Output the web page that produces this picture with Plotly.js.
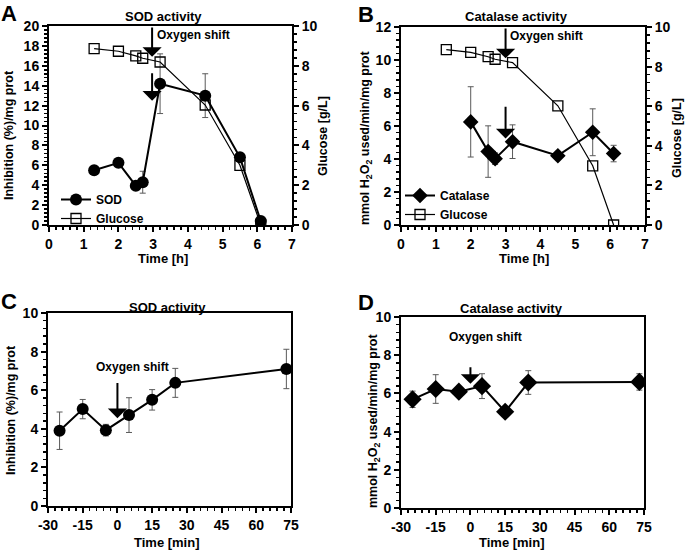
<!DOCTYPE html>
<html>
<head>
<meta charset="utf-8">
<script src="https://cdn.plot.ly/plotly-3.0.1.min.js"></script>
<style>html,body{margin:0;padding:0;background:#fff;}#chart{width:685px;height:550px;}</style>
</head>
<body>
<div id="chart"></div>
<script>
// ---- Data ----
// Panel A (SOD vs time in hours)
var timeA = [1.3, 2.0, 2.5, 2.7, 3.2, 4.5, 5.5, 6.1];
var sodA = [5.5, 6.25, 3.95, 4.3, 14.2, 13.0, 6.8, 0.4];
var sodAErr = [0.2, 0.4, 0.2, 1.1, 3.0, 2.2, 0.3, 0.1];
var glucoseA = [8.86, 8.73, 8.5, 8.38, 8.19, 6.03, 3.0, 0.0];
// Panel B (catalase vs time in hours)
var timeBcat = [2.0, 2.5, 2.7, 3.2, 4.5, 5.5, 6.1];
var catB = [6.25, 4.45, 4.02, 5.05, 4.2, 5.62, 4.33];
var catBErr = [2.13, 1.56, 0.35, 1.02, 0.2, 1.42, 0.5];
var timeBglu = [1.3, 2.0, 2.5, 2.7, 3.2, 4.5, 5.5, 6.1];
var glucoseB = [8.86, 8.72, 8.5, 8.37, 8.2, 6.02, 2.99, 0.0];
// Panel C (SOD vs time in minutes relative to oxygen shift)
var timeC = [-25, -15, -5, 5, 15, 25, 73];
var sodC = [3.9, 5.02, 3.93, 4.71, 5.5, 6.38, 7.1];
var sodCErr = [0.97, 0.5, 0.3, 0.9, 0.53, 0.75, 1.02];
// Panel D (catalase vs time in minutes)
var timeD = [-25, -15, -5, 5, 15, 25, 73];
var catD = [5.69, 6.23, 6.09, 6.38, 5.04, 6.57, 6.6];
var catDErr = [0.43, 0.75, 0.2, 0.65, 0.15, 0.62, 0.43];
// Tick labels
var hourTicks = [0, 1, 2, 3, 4, 5, 6, 7];
var minTicks = [-30, -15, 0, 15, 30, 45, 60, 75];
var inhibTicksA = [0, 2, 4, 6, 8, 10, 12, 14, 16, 18, 20];
var glucoseTicks = [0, 2, 4, 6, 8, 10];
var catTicksB = [0, 2, 4, 6, 8, 10, 12];
var activityTicks = [0, 2, 4, 6, 8, 10];

var FONT = 'Liberation Sans, Arial, Helvetica, sans-serif';
var W = 685, H = 550;
function px(x){ return x / W; }
function py(y){ return 1 - y / H; }
function bold(arr){ return arr.map(function(v){ return '<b>' + v + '</b>'; }); }

var errStyle = function(arr){ return {type:'data', array:arr, visible:true, color:'#5a5a5a', thickness:1, width:3}; };

var traces = [
  {x: timeA, y: sodA, name: 'SOD', xaxis:'x', yaxis:'y', mode:'lines+markers',
   line:{color:'#000', width:2}, marker:{symbol:'circle', size:12, color:'#000'},
   error_y: errStyle(sodAErr), legend:'legend'},
  {x: timeA, y: glucoseA, name: 'Glucose', xaxis:'x', yaxis:'y2', mode:'lines+markers',
   line:{color:'#000', width:1.2}, marker:{symbol:'square-open', size:10, color:'#000', line:{width:1.3}},
   legend:'legend'},
  {x: timeBcat, y: catB, name: 'Catalase', xaxis:'x2', yaxis:'y3', mode:'lines+markers',
   line:{color:'#000', width:2}, marker:{symbol:'diamond', size:12, color:'#000'},
   error_y: errStyle(catBErr), legend:'legend2'},
  {x: timeBglu, y: glucoseB, name: 'Glucose', xaxis:'x2', yaxis:'y4', mode:'lines+markers',
   line:{color:'#000', width:1.2}, marker:{symbol:'square-open', size:10, color:'#000', line:{width:1.3}},
   legend:'legend2'},
  {x: timeC, y: sodC, name: 'SOD', xaxis:'x3', yaxis:'y5', mode:'lines+markers', showlegend:false,
   line:{color:'#000', width:2}, marker:{symbol:'circle', size:12, color:'#000'},
   error_y: errStyle(sodCErr)},
  {x: timeD, y: catD, name: 'Catalase', xaxis:'x4', yaxis:'y6', mode:'lines+markers', showlegend:false,
   line:{color:'#000', width:2}, marker:{symbol:'diamond', size:14, color:'#000'},
   error_y: errStyle(catDErr)}
];

var tickFont = {family: FONT, size: 14, color:'#000', weight:'bold'};
function baseAxis(ticks, extra){
  var a = {showgrid:false, zeroline:false, showline:true, linecolor:'#000', linewidth:2,
    ticks:'outside', ticklen:5, tickwidth:2, tickcolor:'#000', tickfont:tickFont,
    tickmode:'array', tickvals:ticks, ticktext:bold(ticks), fixedrange:true};
  for (var k in extra) a[k] = extra[k];
  return a;
}
function minor(d){ return {dtick:d, ticklen:3, tickwidth:1.5, ticks:'outside', tickcolor:'#000'}; }

var domA = {x:[px(49), px(292)], y:[py(225), py(26)]};
var domB = {x:[px(401), px(645)], y:[py(225), py(27)]};
var domC = {x:[px(48), px(291)], y:[py(506), py(313)]};
var domD = {x:[px(401), px(644)], y:[py(508), py(317)]};

var layout = {
  width: W, height: H,
  margin:{l:0, r:0, t:0, b:0},
  paper_bgcolor:'#fff', plot_bgcolor:'rgba(0,0,0,0)',
  font:{family: FONT, color:'#000'},
  showlegend: true,
  xaxis: baseAxis(hourTicks, {domain:domA.x, anchor:'y', range:[0,7], mirror:true, minor:minor(0.2)}),
  yaxis: baseAxis(inhibTicksA, {domain:domA.y, anchor:'x', range:[0,20], minor:minor(0.4)}),
  yaxis2: baseAxis(glucoseTicks, {overlaying:'y', side:'right', anchor:'x', range:[0,10], minor:minor(0.4)}),
  xaxis2: baseAxis(hourTicks, {domain:domB.x, anchor:'y3', range:[0,7], mirror:true, minor:minor(0.2)}),
  yaxis3: baseAxis(catTicksB, {domain:domB.y, anchor:'x2', range:[0,12], minor:minor(0.4)}),
  yaxis4: baseAxis(glucoseTicks, {overlaying:'y3', side:'right', anchor:'x2', range:[0,10], minor:minor(0.4)}),
  xaxis3: baseAxis(minTicks, {domain:domC.x, anchor:'y5', range:[-30,75], mirror:true, minor:minor(3)}),
  yaxis5: baseAxis(activityTicks, {domain:domC.y, anchor:'x3', range:[0,10], mirror:true, minor:minor(0.4)}),
  xaxis4: baseAxis(minTicks, {domain:domD.x, anchor:'y6', range:[-30,75], mirror:true, minor:minor(3)}),
  yaxis6: baseAxis(activityTicks, {domain:domD.y, anchor:'x4', range:[0,10], mirror:true, minor:minor(0.4)}),
  legend: {x: px(56), y: py(185), xanchor:'left', yanchor:'top', bgcolor:'rgba(0,0,0,0)',
    font:{family:FONT, size:12, weight:'bold', color:'#000'}, itemwidth:30, tracegroupgap:0},
  legend2: {x: px(400), y: py(181), xanchor:'left', yanchor:'top', bgcolor:'rgba(0,0,0,0)',
    font:{family:FONT, size:12, weight:'bold', color:'#000'}, itemwidth:30, tracegroupgap:0},
  annotations: []
};

var ann = layout.annotations;
function ptext(text, x, y, size, opts){
  var a = {text:'<b>' + text + '</b>', xref:'paper', yref:'paper', x:px(x), y:py(y), showarrow:false,
    xanchor:'center', yanchor:'middle', font:{family:FONT, size:size, color:'#000'}};
  if (opts) for (var k in opts) a[k] = opts[k];
  ann.push(a);
}
// Panel letters
ptext('A', 9, 13, 22);
ptext('B', 366, 14, 22);
ptext('C', 9, 301, 22);
ptext('D', 366, 302, 22);
// Titles
ptext('SOD activity', 163, 17, 13);
ptext('Catalase activity', 516, 17, 13);
ptext('SOD activity', 167, 307, 13);
ptext('Catalase activity', 512, 308, 13);
// Axis titles
ptext('Inhibition (%)/mg prot', 9, 135, 12.5, {textangle:-90});
ptext('Glucose [g/L]', 323, 136, 12.5, {textangle:-90});
ptext('Time [h]', 163, 258, 13);
ptext('mmol H<sub>2</sub>O<sub>2</sub> used/min/mg prot', 366, 137, 12.5, {textangle:-90});
ptext('Glucose [g/L]', 677, 138, 12.5, {textangle:-90});
ptext('Time [h]', 524, 258, 13);
ptext('Inhibition (%)/mg prot', 11, 410, 12.5, {textangle:-90});
ptext('Time [min]', 167, 542, 13);
ptext('mmol H<sub>2</sub>O<sub>2</sub> used/min/mg prot', 374, 420, 12.5, {textangle:-90});
ptext('Time [min]', 512, 542, 13);

// Arrows (data coords)
function arrow(xr, yr, x, yTail, yTip){
  ann.push({xref:xr, yref:yr, axref:xr, ayref:yr, x:x, y:yTip, ax:x, ay:yTail,
    showarrow:true, arrowhead:1, arrowsize:1.6, arrowwidth:2, arrowcolor:'#000', text:''});
}
function dtext(xr, yr, text, x, y, xanchor){
  ann.push({xref:xr, yref:yr, x:x, y:y, text:'<b>' + text + '</b>', showarrow:false, xanchor:xanchor||'center',
    yanchor:'middle', font:{family:FONT, size:12, color:'#000'}});
}
arrow('x','y', 2.97, 20, 16.9);
arrow('x','y', 2.97, 15.4, 12.5);
dtext('x','y','Oxygen shift', 3.04, 19.1, 'left');
arrow('x2','y3', 3.0, 12, 10.1);
arrow('x2','y3', 3.0, 7.26, 5.25);
dtext('x2','y3','Oxygen shift', 3.08, 11.45, 'left');
arrow('x3','y5', 0, 6.45, 4.55);
dtext('x3','y5','Oxygen shift', 6.5, 7.18);
arrow('x4','y6', 0, 7.45, 6.5);
dtext('x4','y6','Oxygen shift', 6.4, 8.96);

Plotly.newPlot('chart', traces, layout, {displayModeBar:false, staticPlot:true});
</script>
</body>
</html>
